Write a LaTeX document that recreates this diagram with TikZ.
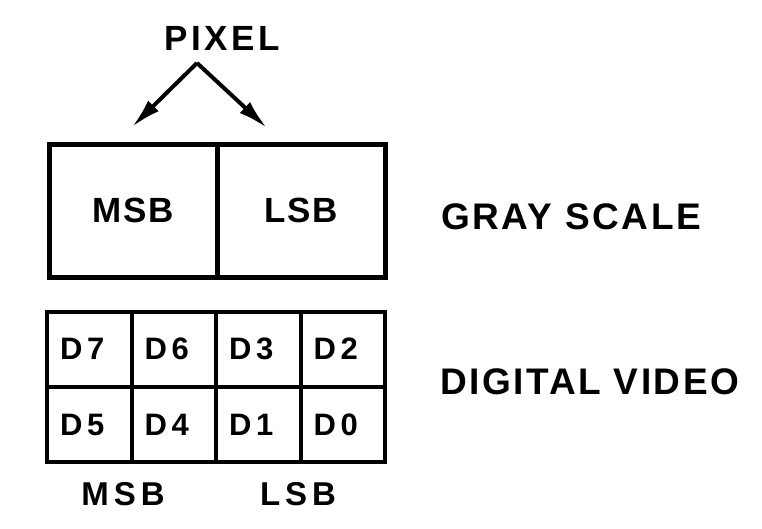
\documentclass[tikz,border=0pt]{standalone}
\usepackage{fontspec}
\setmainfont{Liberation Sans}
\newfontfamily\lblfont{Liberation Sans}[LetterSpace=4]
\newfontfamily\sidefont{Liberation Sans}[LetterSpace=7]
\newfontfamily\widefont{Liberation Sans}[LetterSpace=10]
\newfontfamily\widerfont{Liberation Sans}[LetterSpace=15]
\usetikzlibrary{arrows.meta}
\begin{document}
\begin{tikzpicture}[x=1pt,y=-1pt,
  lbl/.style={font=\sidefont\fontsize{37}{37}\selectfont\bfseries, inner sep=0pt},
  cell/.style={draw, line width=4.2pt, minimum width=84.5pt, minimum height=75pt, inner sep=0pt, anchor=north west},
  celltext/.style={inner sep=0pt, font=\widerfont\fontsize{31}{31}\selectfont\bfseries},
  big/.style={draw, line width=4.5pt, minimum width=168pt, minimum height=133pt, inner sep=0pt, anchor=north west, font=\lblfont\fontsize{35}{35}\selectfont\bfseries},
  ptr/.style={line width=4pt, -{Latex[length=30pt,width=15pt]}}]
\useasboundingbox (0,0) rectangle (762,528);
\node[inner sep=0pt, font=\widefont\fontsize{35}{35}\selectfont\bfseries] (pixel) at (222,38) {PIXEL};
\coordinate (apex) at (197,63);
\coordinate (tl) at (132,127);
\coordinate (tr) at (267,128);
\draw[ptr] (apex) -- (tl);
\draw[ptr] (apex) -- (tr);
\node[big] (msb) at (47,142) {MSB};
\node[big] (lsb) at (215,142) {LSB};
\node[lbl, anchor=west] (gray) at (441,217) {GRAY SCALE};
\node[cell] (d7) at (45,310) {};
\node[cell] (d6) at (129.5,310) {};
\node[cell] (d3) at (214,310) {};
\node[cell] (d2) at (298.5,310) {};
\node[cell] (d5) at (45,385) {};
\node[cell] (d4) at (129.5,385) {};
\node[cell] (d1) at (214,385) {};
\node[cell] (d0) at (298.5,385) {};
\node[celltext] (t7) at ([xshift=-7pt,yshift=1pt]d7.center) {D7};
\node[celltext] (t6) at ([xshift=-7pt,yshift=1pt]d6.center) {D6};
\node[celltext] (t3) at ([xshift=-7pt,yshift=1pt]d3.center) {D3};
\node[celltext] (t2) at ([xshift=-7pt,yshift=1pt]d2.center) {D2};
\node[celltext] (t5) at ([xshift=-7pt]d5.center) {D5};
\node[celltext] (t4) at ([xshift=-7pt]d4.center) {D4};
\node[celltext] (t1) at ([xshift=-7pt]d1.center) {D1};
\node[celltext] (t0) at ([xshift=-7pt]d0.center) {D0};
\node[lbl, anchor=west] (dv) at (440,382) {DIGITAL VIDEO};
\node[inner sep=0pt, font=\widerfont\fontsize{33}{33}\selectfont\bfseries] (bmsb) at (123,494) {MSB};
\node[inner sep=0pt, font=\widerfont\fontsize{33}{33}\selectfont\bfseries] (blsb) at (298,494) {LSB};
\end{tikzpicture}
\end{document}
